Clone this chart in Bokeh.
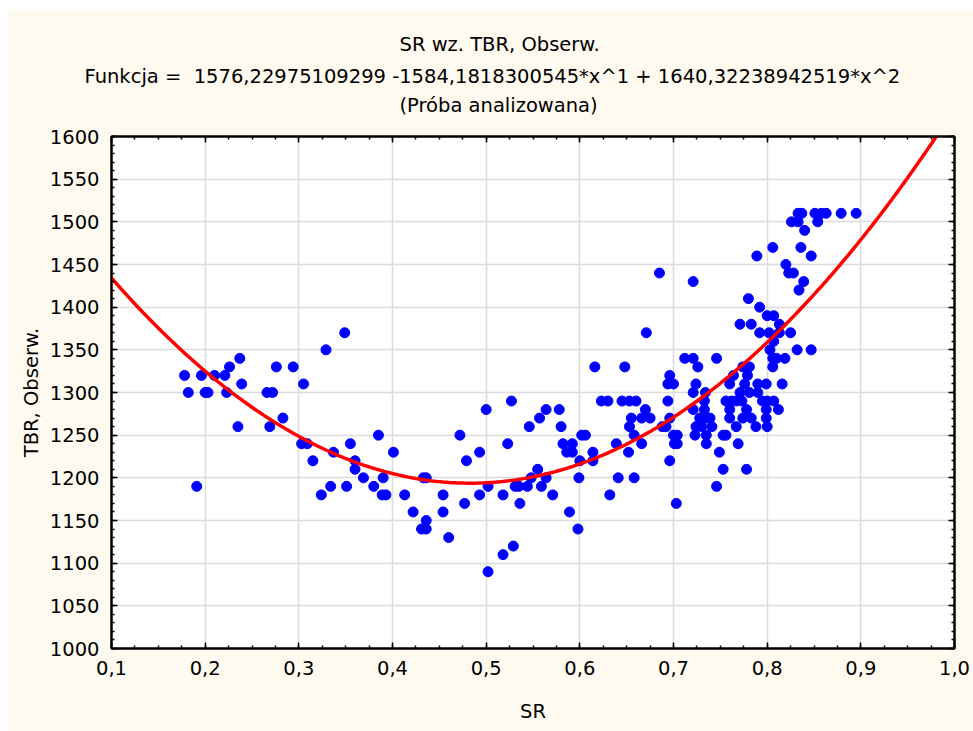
import numpy as np
from bokeh.plotting import figure
from bokeh.models import (ColumnDataSource, FixedTicker, LinearAxis, Title,
                          CustomJSTickFormatter, Range1d, CustomLabelingPolicy)
from bokeh.embed import file_html
from bokeh.resources import INLINE

# ---- data ----
sr = [0.178, 0.182, 0.191, 0.196, 0.200, 0.203, 0.210, 0.221, 0.223, 0.226,
      0.235, 0.237, 0.239, 0.266, 0.269, 0.272, 0.276, 0.283, 0.294, 0.303,
      0.305, 0.309, 0.315, 0.324, 0.329, 0.334, 0.337, 0.349, 0.351, 0.355,
      0.360, 0.360, 0.369, 0.380, 0.385, 0.390, 0.389, 0.393, 0.401, 0.413,
      0.422, 0.433, 0.436, 0.436, 0.431, 0.436, 0.454, 0.454, 0.460, 0.472,
      0.479, 0.477, 0.493, 0.493, 0.500, 0.502, 0.502, 0.518, 0.518, 0.529,
      0.523, 0.527, 0.531, 0.535, 0.544, 0.536, 0.546, 0.555, 0.548, 0.557,
      0.564, 0.559, 0.564, 0.571, 0.578, 0.580, 0.582, 0.592, 0.586, 0.592,
      0.602, 0.606, 0.600, 0.599, 0.589, 0.598, 0.614, 0.614, 0.616, 0.623,
      0.630, 0.632, 0.639, 0.641, 0.645, 0.648, 0.652, 0.653, 0.653, 0.655,
      0.658, 0.658, 0.660, 0.666, 0.666, 0.670, 0.671, 0.675, 0.685, 0.688,
      0.692, 0.694, 0.694, 0.696, 0.696, 0.696, 0.700, 0.700, 0.704, 0.701,
      0.704, 0.703, 0.712, 0.721, 0.721, 0.721, 0.721, 0.724, 0.723, 0.726,
      0.728, 0.733, 0.733, 0.735, 0.734, 0.735, 0.735, 0.739, 0.724, 0.730,
      0.741, 0.746, 0.746, 0.749, 0.753, 0.756, 0.753, 0.756, 0.760, 0.760,
      0.760, 0.762, 0.764, 0.767, 0.767, 0.769, 0.771, 0.773, 0.774, 0.776,
      0.778, 0.778, 0.779, 0.781, 0.781, 0.783, 0.788, 0.790, 0.790, 0.771,
      0.783, 0.774, 0.780, 0.789, 0.792, 0.792, 0.800, 0.807, 0.802, 0.813,
      0.813, 0.825, 0.807, 0.803, 0.806, 0.810, 0.806, 0.819, 0.832, 0.847,
      0.799, 0.816, 0.795, 0.800, 0.807, 0.799, 0.812, 0.799, 0.800, 0.820,
      0.823, 0.828, 0.839, 0.834, 0.833, 0.837, 0.851, 0.858, 0.863, 0.879,
      0.895, 0.826, 0.833, 0.854, 0.840, 0.806, 0.836, 0.847]
tbr = [1320, 1300, 1190, 1320, 1300, 1300, 1320, 1320, 1300, 1330,
       1260, 1340, 1310, 1300, 1260, 1300, 1330, 1270, 1330, 1240,
       1310, 1240, 1220, 1180, 1350, 1190, 1230, 1370, 1190, 1240,
       1220, 1210, 1200, 1190, 1250, 1200, 1180, 1180, 1230, 1180,
       1160, 1200, 1200, 1150, 1140, 1140, 1180, 1160, 1130, 1250,
       1220, 1170, 1230, 1180, 1280, 1190, 1090, 1180, 1110, 1120,
       1240, 1290, 1190, 1190, 1190, 1170, 1260, 1210, 1200, 1270,
       1280, 1190, 1200, 1180, 1280, 1260, 1240, 1240, 1230, 1230,
       1250, 1250, 1220, 1200, 1160, 1140, 1230, 1220, 1330, 1290,
       1290, 1180, 1240, 1200, 1290, 1330, 1230, 1290, 1260, 1270,
       1250, 1200, 1290, 1270, 1240, 1280, 1370, 1270, 1440, 1260,
       1260, 1290, 1310, 1320, 1270, 1220, 1310, 1250, 1250, 1240,
       1240, 1170, 1340, 1340, 1430, 1300, 1280, 1310, 1250, 1330,
       1270, 1290, 1280, 1270, 1300, 1250, 1240, 1270, 1260, 1260,
       1260, 1340, 1190, 1230, 1250, 1250, 1210, 1290, 1280, 1270,
       1310, 1290, 1320, 1290, 1260, 1240, 1300, 1290, 1270, 1310,
       1280, 1210, 1320, 1330, 1300, 1270, 1260, 1310, 1300, 1380,
       1380, 1330, 1410, 1460, 1400, 1370, 1390, 1390, 1370, 1380,
       1370, 1370, 1360, 1350, 1340, 1340, 1330, 1340, 1350, 1350,
       1310, 1310, 1290, 1290, 1290, 1280, 1280, 1270, 1260, 1450,
       1440, 1440, 1430, 1420, 1510, 1510, 1510, 1510, 1510, 1510,
       1510, 1500, 1500, 1500, 1490, 1470, 1470, 1460]

# fitted function coefficients (from the chart's subtitle)
coef = [1576.22975109299, -1584.1818300545, 1640.32238942519]

x_ticks = [0.1, 0.2, 0.3, 0.4, 0.5, 0.6, 0.7, 0.8, 0.9, 1.0]
y_ticks = [1000, 1050, 1100, 1150, 1200, 1250, 1300, 1350, 1400, 1450,
           1500, 1550, 1600]

title1 = "SR wz. TBR, Obserw."
title2 = "Funkcja =\u00a0 1576,22975109299 -1584,1818300545*x^1 + 1640,32238942519*x^2"
title3 = "(Próba analizowana)"

FONT = "DejaVu Sans"
FS = "19.5px"
CREAM = "#FFFAEF"

p = figure(width=964, height=722, frame_width=843, frame_height=512,
           x_range=Range1d(0.1, 1.0), y_range=Range1d(1000, 1600),
           output_backend="svg", toolbar_location=None, title=None,
           min_border_left=103, min_border_top=127, min_border_right=18,
           min_border_bottom=83)
p.margin = (9, 0, 0, 8)
p.background_fill_color = "white"
p.border_fill_color = CREAM
p.outline_line_color = "black"
p.outline_line_width = 2

xt = FixedTicker(ticks=x_ticks,
                 minor_ticks=[round(0.1 + 0.025 * i, 3) for i in range(37)])
yt = FixedTicker(ticks=y_ticks, minor_ticks=list(range(1000, 1601, 10)))
fmt = CustomJSTickFormatter(code="return tick.toFixed(1).replace('.', ',');")
no_labels = CustomLabelingPolicy(
    code="for (let i = 0; i < indices.size; i++) { indices.unset(i) } return indices;")


def style(ax, labels=True):
    ax.axis_line_color = "black"
    ax.axis_line_width = 2
    ax.major_tick_in = 6
    ax.major_tick_out = 0
    ax.minor_tick_in = 3
    ax.minor_tick_out = 0
    ax.major_tick_line_width = 1.5
    ax.minor_tick_line_width = 1.5
    ax.major_tick_line_color = "black"
    ax.minor_tick_line_color = "black"
    ax.major_label_text_font = FONT
    ax.major_label_text_font_size = FS
    ax.major_label_text_color = "black"
    ax.major_label_standoff = 12
    ax.axis_label_text_font = FONT
    ax.axis_label_text_font_size = FS
    ax.axis_label_text_font_style = "normal"
    ax.axis_label_text_color = "black"
    if not labels:
        ax.major_label_policy = no_labels
        ax.major_label_standoff = 0


p.xaxis.ticker = xt
p.xaxis.formatter = fmt
p.yaxis.ticker = yt
p.xaxis.axis_label = "SR"
p.yaxis.axis_label = "TBR, Obserw."
style(p.xaxis[0])
style(p.yaxis[0])
p.xaxis.axis_label_standoff = 22
p.yaxis.axis_label_standoff = 4

top_ax = LinearAxis(ticker=xt)
right_ax = LinearAxis(ticker=yt)
style(top_ax, labels=False)
style(right_ax, labels=False)
p.add_layout(top_ax, "above")
p.add_layout(right_ax, "right")

p.xgrid.ticker = xt
p.ygrid.ticker = yt
p.grid.grid_line_color = "#dcdcdc"
p.grid.grid_line_width = 1.5

for t, so, off in ((title3, 5, 288), (title2, 3, -27), (title1, 11, 288)):
    p.add_layout(Title(text=t, align="left", text_font=FONT,
                       text_font_size=FS, text_font_style="normal",
                       text_color="black", standoff=so, offset=off), "above")

src = ColumnDataSource(dict(x=sr, y=tbr))
p.scatter("x", "y", source=src, size=10, fill_color="#0000FF",
          line_color="#0000FF")

cx = np.linspace(0.1, 1.0, 400)
cy = coef[0] + coef[1] * cx + coef[2] * cx ** 2
p.line(cx, cy, line_color="#FF0000", line_width=3.5)

open("out.html", "w").write(file_html(p, INLINE))
